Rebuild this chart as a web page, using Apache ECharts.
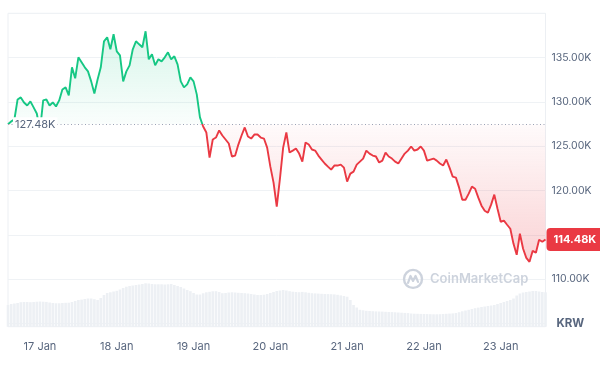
<!DOCTYPE html>
<html><head><meta charset="utf-8">
<script src="https://cdn.jsdelivr.net/npm/echarts@6/dist/echarts.min.js"></script>
<style>html,body{margin:0;padding:0;background:#fff}#c{width:600px;height:369px}</style>
</head><body><div id="c"></div>
<script>
// ---- data ----
const dayNames = ['16 Jan','17 Jan','18 Jan','19 Jan','20 Jan','21 Jan','22 Jan','23 Jan'];
const firstHour = 14; // first sample: 16 Jan 14:00, hourly samples
const priceK = [
127.48,127.80,128.02,130.28,130.51,129.94,129.60,130.06,129.38,128.70,
126.78,130.17,130.28,129.60,129.94,129.49,130.17,131.41,131.64,130.74,
133.90,132.66,135.03,134.47,133.90,133.45,132.32,130.96,132.54,133.90,
136.84,137.30,135.94,137.64,135.71,135.26,132.32,133.45,134.13,135.94,
136.84,136.50,136.17,137.97,134.81,135.37,134.13,134.81,134.58,135.03,
135.60,134.81,135.15,134.24,132.32,131.64,131.98,132.77,132.32,130.85,
128.25,127.23,126.55,123.72,125.76,125.98,126.78,126.21,125.76,125.31,
123.84,123.95,125.19,126.21,127.12,126.10,125.87,126.32,126.32,125.98,
125.87,124.85,122.70,120.89,118.18,121.35,124.85,126.55,124.29,124.51,
124.74,124.17,123.27,125.42,125.19,124.63,124.51,123.95,123.50,123.05,
122.70,122.36,122.82,122.82,122.93,122.59,121.01,121.91,122.14,122.93,
123.27,123.61,124.51,124.17,123.95,123.84,123.16,123.38,124.29,123.84,
123.61,123.27,123.05,123.61,124.17,124.51,124.97,124.51,124.63,124.97,
124.51,123.38,123.50,123.61,123.38,123.05,122.82,123.50,122.59,121.57,
121.46,120.33,118.97,118.97,119.65,120.44,120.21,119.20,118.29,117.73,
117.50,118.41,119.54,117.95,116.48,116.60,116.14,115.69,113.99,112.75,
115.13,113.43,112.41,111.96,113.20,112.98,114.45,114.22,114.48
];
const volume = [
21.7,22.7,23.2,23.7,24.5,24.7,24.7,24.5,24.7,25.0,
25.2,25.0,24.8,24.2,23.7,23.4,23.4,23.7,23.9,24.0,
24.7,25.7,26.7,27.1,27.7,28.2,28.2,27.5,26.7,28.7,
31.7,33.7,34.4,35.2,35.9,37.2,38.7,40.0,40.7,41.2,
41.7,42.2,42.7,43.4,43.2,42.7,42.4,42.4,42.4,42.2,
42.4,42.7,41.7,40.7,39.7,38.2,36.7,35.5,33.7,32.2,
32.2,33.4,34.4,34.9,35.4,35.5,34.7,33.5,33.7,34.2,
34.4,34.2,33.9,33.7,33.5,33.2,32.7,32.2,31.7,31.7,
32.0,32.7,33.7,34.7,35.7,36.2,36.7,36.2,35.5,35.0,
34.7,34.5,34.8,34.4,33.9,33.5,33.3,33.1,32.9,32.7,
32.6,32.5,32.3,31.9,31.3,30.7,30.0,26.7,21.7,19.2,
16.9,16.4,15.9,15.7,15.5,15.3,15.2,15.1,14.9,14.7,
14.6,14.4,14.2,14.0,13.8,13.6,13.2,13.0,12.9,12.8,
12.7,12.6,12.5,12.4,12.4,12.5,12.7,12.9,13.1,13.3,
13.7,14.5,15.4,16.2,16.9,17.7,18.5,19.1,19.7,20.2,
20.7,21.2,21.7,22.7,23.7,24.7,25.7,26.7,28.2,31.2,
33.2,34.2,34.7,35.2,35.7,35.7,35.2,34.7,34.4
];
const openPriceK = 127.48;
const lastPriceK = 114.48;
const currencyLabel = 'KRW';
const watermarkText = 'CoinMarketCap';

// categories built from the hourly timeline
const categories = priceK.map((_, i) => {
  const t = firstHour + i;
  const hh = String(t % 24).padStart(2, '0');
  return dayNames[Math.floor(t / 24)] + ' ' + hh + ':00';
});

const GREEN = '#16c784', RED = '#ea3943', TXT = '#58667e';
const FONT = 'Inter, "Noto Sans", sans-serif';
const chart = echarts.init(document.getElementById('c'), null, {renderer: 'canvas'});

const option = {
  animation: false,
  textStyle: {fontFamily: FONT},
  grid: [
    {left: 8, right: 54.5, top: 13.3, bottom: 42.3, show: true, borderColor: '#eceff3', borderWidth: 1, backgroundColor: 'transparent'},
    {left: 8, right: 54.5, bottom: 42.3, height: 100}
  ],
  xAxis: [
    {type: 'category', gridIndex: 0, data: categories, boundaryGap: false,
     axisLine: {show: false}, axisTick: {show: false}, splitLine: {show: false},
     axisLabel: {
       interval: (idx, val) => val.endsWith(' 00:00'),
       formatter: val => val.slice(0, -6),
       color: TXT, fontSize: 11, margin: 14, fontFamily: FONT
     }},
    {type: 'category', gridIndex: 1, data: categories, boundaryGap: false, show: false}
  ],
  yAxis: [
    {type: 'value', gridIndex: 0, position: 'right', min: 104.64, max: 140, splitNumber: 7,
     axisLine: {show: false}, axisTick: {show: false},
     splitLine: {lineStyle: {color: '#eff2f5', width: 1}},
     axisLabel: {
       showMinLabel: false, showMaxLabel: false, margin: 6,
       color: TXT, fontSize: 10.5, fontFamily: FONT,
       formatter: v => Math.abs(v - 105) < 1e-6 ? '{k|' + currencyLabel + '}' : v.toFixed(2) + 'K',
       rich: {k: {fontWeight: 'bold', fontSize: 11.5, color: TXT, padding: [0, 0, 0, 5], fontFamily: FONT}}
     }},
    {type: 'value', gridIndex: 1, min: 0, max: 100, show: false}
  ],
  series: [
    {type: 'bar', xAxisIndex: 1, yAxisIndex: 1, data: volume, barCategoryGap: '18%',
     itemStyle: {color: '#edf0f4'}, silent: true, z: 1},
    {type: 'line', xAxisIndex: 0, yAxisIndex: 0, data: priceK, symbol: 'none', z: 3,
     lineStyle: {width: 1.9, color: RED},
     areaStyle: {origin: openPriceK, color: 'rgba(234,57,67,0.1)'},
     markLine: {
       silent: true, symbol: ['none', 'none'], label: {show: false},
       lineStyle: {type: [1, 2.5], color: '#9aa3b5', width: 1},
       data: [{yAxis: openPriceK}]
     },
     markPoint: {
       silent: true, symbolSize: 0,
       data: [
         {coord: [categories[0], openPriceK],
          label: {show: true, position: 'right', distance: 5, formatter: openPriceK.toFixed(2) + 'K',
                  color: TXT, fontSize: 11, fontFamily: FONT, backgroundColor: '#fff', padding: [2, 2, 1, 2]}},
         {coord: [categories[categories.length - 1], lastPriceK],
          label: {show: true, position: 'right', distance: 1, formatter: lastPriceK.toFixed(2) + 'K',
                  color: '#fff', fontWeight: 'bold', fontSize: 11, fontFamily: FONT, lineHeight: 12,
                  backgroundColor: RED, borderRadius: 4, padding: [6, 7, 5, 7]}}
       ]
     }}
  ]
};
chart.setOption(option);

// colour split at the open price (line) and fading fills (area)
const yBase = chart.convertToPixel({yAxisIndex: 0}, openPriceK);
const yHi = chart.convertToPixel({yAxisIndex: 0}, Math.max(...priceK));
const yLo = chart.convertToPixel({yAxisIndex: 0}, Math.min(...priceK));
const f = (yBase - yHi) / (yLo - yHi);
const lineGrad = new echarts.graphic.LinearGradient(0, yHi, 0, yLo, [
  {offset: 0, color: GREEN}, {offset: f, color: GREEN},
  {offset: f, color: RED}, {offset: 1, color: RED}], true);
const areaGrad = new echarts.graphic.LinearGradient(0, yHi, 0, yLo, [
  {offset: 0, color: 'rgba(22,199,132,0.24)'}, {offset: f, color: 'rgba(22,199,132,0.03)'},
  {offset: f, color: 'rgba(234,57,67,0.03)'}, {offset: 1, color: 'rgba(234,57,67,0.32)'}], true);

// watermark position derived from grid
const gx = chart.convertToPixel({xAxisIndex: 0}, categories[123]);
const gy = chart.convertToPixel({yAxisIndex: 0}, 110.2);
chart.setOption({
  series: [{}, {lineStyle: {color: lineGrad}, areaStyle: {color: areaGrad}}],
  graphic: [{
    type: 'group', left: gx, top: gy - 10, silent: true, z: 10,
    children: [
      {type: 'circle', shape: {cx: 10, cy: 10, r: 9}, style: {fill: 'none', stroke: '#cdd3dd', lineWidth: 2.4}},
      {type: 'polyline', shape: {points: [[5, 14], [7.5, 7], [10, 12], [12.5, 7], [15, 13]]},
       style: {fill: 'none', stroke: '#cdd3dd', lineWidth: 2.2, lineJoin: 'round', lineCap: 'round'}},
      {type: 'text', x: 27, y: 10, style: {text: watermarkText, fill: '#cdd3dd', font: '600 13px ' + FONT, verticalAlign: 'middle'}}
    ]
  }]
});
</script></body></html>
